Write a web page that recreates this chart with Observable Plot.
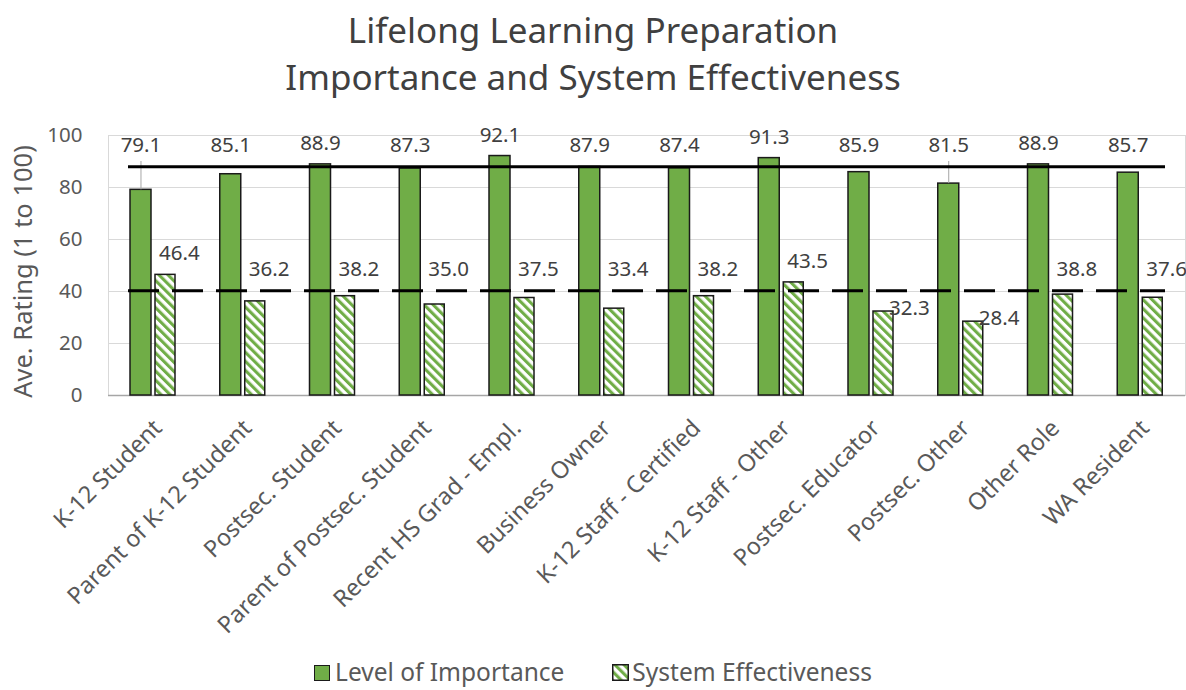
<!DOCTYPE html>
<html>
<head>
<meta charset="utf-8">
<script src="https://cdn.jsdelivr.net/npm/d3@7"></script>
<script src="https://cdn.jsdelivr.net/npm/@observablehq/plot@0.6"></script>
<style>
  html, body { margin: 0; padding: 0; background: #fff; }
  body { width: 1186px; height: 690px; overflow: hidden; font-family: "Noto Sans", sans-serif; }
  #title { height: 100px; box-sizing: border-box; padding-top: 6px; text-align: center; font-size: 35px; line-height: 47px; color: #404040; }
  #chart svg { display: block; }
  #legend { height: 40px; box-sizing: border-box; padding-top: 2px; line-height: 40px; text-align: center; font-size: 24.5px; color: #595959; white-space: nowrap; }
  .sw { display: inline-block; width: 14px; height: 14px; border: 1.5px solid #1a1a1a; vertical-align: baseline; }
</style>
</head>
<body>
<svg width="0" height="0" style="position:absolute">
  <defs>
    <pattern id="hatch" patternUnits="userSpaceOnUse" width="6.4" height="10" patternTransform="rotate(-45)">
      <rect x="0" y="0" width="6.4" height="10" fill="#ffffff"></rect>
      <rect x="0" y="0" width="3.1" height="10" fill="#70AD47"></rect>
    </pattern>
  </defs>
</svg>
<div id="title">Lifelong Learning Preparation<br>Importance and System Effectiveness</div>
<div id="chart"></div>
<div id="legend"><span class="sw" style="background:#70AD47"></span><span style="margin-left:5px">Level of Importance</span><span style="display:inline-block;width:48px"></span><svg width="17" height="17" style="vertical-align:baseline;overflow:visible"><rect x="0.75" y="0.75" width="15.5" height="15.5" fill="url(#hatch)" stroke="#1a1a1a" stroke-width="1.5"></rect></svg><span style="margin-left:3px">System Effectiveness</span></div>

<script>
// ---- data ----
const categories = [
  "K-12 Student", "Parent of K-12 Student", "Postsec. Student", "Parent of Postsec. Student",
  "Recent HS Grad - Empl.", "Business Owner", "K-12 Staff - Certified", "K-12 Staff - Other",
  "Postsec. Educator", "Postsec. Other", "Other Role", "WA Resident"
];
const importance = [79.1, 85.1, 88.9, 87.3, 92.1, 87.9, 87.4, 91.3, 85.9, 81.5, 88.9, 85.7];
const effectiveness = [46.4, 36.2, 38.2, 35.0, 37.5, 33.4, 38.2, 43.5, 32.3, 28.4, 38.8, 37.6];
const importanceReference = 88.0;     // solid line
const effectivenessReference = 40.3;  // dashed line
const yTicks = [0, 20, 40, 60, 80, 100];
const seriesNames = ["Level of Importance", "System Effectiveness"];

// ---- table built from arrays ----
const rows = categories.map((c, i) => ({category: c, imp: importance[i], eff: effectiveness[i]}));
// labels of bars far below the dashed line sit beside the bar; others sit above the line
const effFar = rows.filter(d => d.eff < effectivenessReference - 7.5);
const effNear = rows.filter(d => d.eff >= effectivenessReference - 7.5);

const green = "#70AD47";
const outline = "#1a1a1a";

const chart = Plot.plot({
  width: 1186,
  height: 550,
  marginTop: 35,
  marginBottom: 255,
  marginLeft: 108,
  marginRight: 1,
  style: {fontFamily: "Noto Sans", fontSize: "20.5px", color: "#595959", background: "#fff", overflow: "visible"},
  x: {type: "band", domain: categories, padding: 0, round: false, axis: null},
  y: {domain: [0, 100], ticks: yTicks, tickSize: 0, tickPadding: 26, label: null, tickFormat: d => String(d)},
  marks: [
    Plot.ruleY(yTicks, {stroke: "#d9d9d9", strokeWidth: 1}),
    Plot.frame({stroke: "#d9d9d9", strokeWidth: 1}),
    Plot.ruleY([0], {stroke: "#a6a6a6", strokeWidth: 1.5}),
    // Level of Importance bars
    Plot.barY(rows, {x: "category", y: "imp", fill: green, stroke: outline, strokeWidth: 1.5,
      insetLeft: 22, insetRight: 46.75, title: d => seriesNames[0]}),
    // System Effectiveness bars (hatched)
    Plot.barY(rows, {x: "category", y: "eff", fill: "url(#hatch)", stroke: outline, strokeWidth: 1.5,
      insetLeft: 47, insetRight: 22.75, title: d => seriesNames[1]}),
    // leader lines for displaced labels
    Plot.ruleX(rows.filter(d => d.imp < importanceReference - 5), {x: "category", y1: "imp", y2: () => importanceReference + 2,
      dx: -12.4, stroke: "#a6a6a6", strokeWidth: 1}),
    // reference lines
    Plot.ruleY([importanceReference], {stroke: "#000", strokeWidth: 3, insetLeft: 20, insetRight: 20}),
    Plot.ruleY([effectivenessReference], {stroke: "#000", strokeWidth: 3, strokeDasharray: "31,13", insetLeft: 20, insetRight: 20}),
    // value labels
    Plot.text(rows, {x: "category", y: d => Math.max(d.imp, importanceReference), text: d => d.imp.toFixed(1),
      dx: -12.4, dy: -21, fontSize: 20.5, fill: "#404040"}),
    Plot.text(effNear, {x: "category", y: d => Math.max(d.eff, effectivenessReference), text: d => d.eff.toFixed(1),
      dx: 26, dy: -21, fontSize: 20.5, fill: "#404040"}),
    Plot.text(effFar, {x: "category", y: "eff", text: d => d.eff.toFixed(1),
      dx: 38, dy: -3, fontSize: 20.5, fill: "#404040"}),
    // category labels
    Plot.text(categories, {x: d => d, text: d => d, frameAnchor: "bottom", rotate: -45, textAnchor: "end",
      dx: 10, dy: 34, fontSize: 23.5, fill: "#595959"}),
    // y axis title
    Plot.text(["Ave. Rating (1 to 100)"], {text: d => d, frameAnchor: "left", textAnchor: "middle", rotate: -90, dx: -85, dy: 6,
      fontSize: 25.5, fill: "#595959"})
  ]
});
document.getElementById("chart").appendChild(chart);
</script>
</body>
</html>
